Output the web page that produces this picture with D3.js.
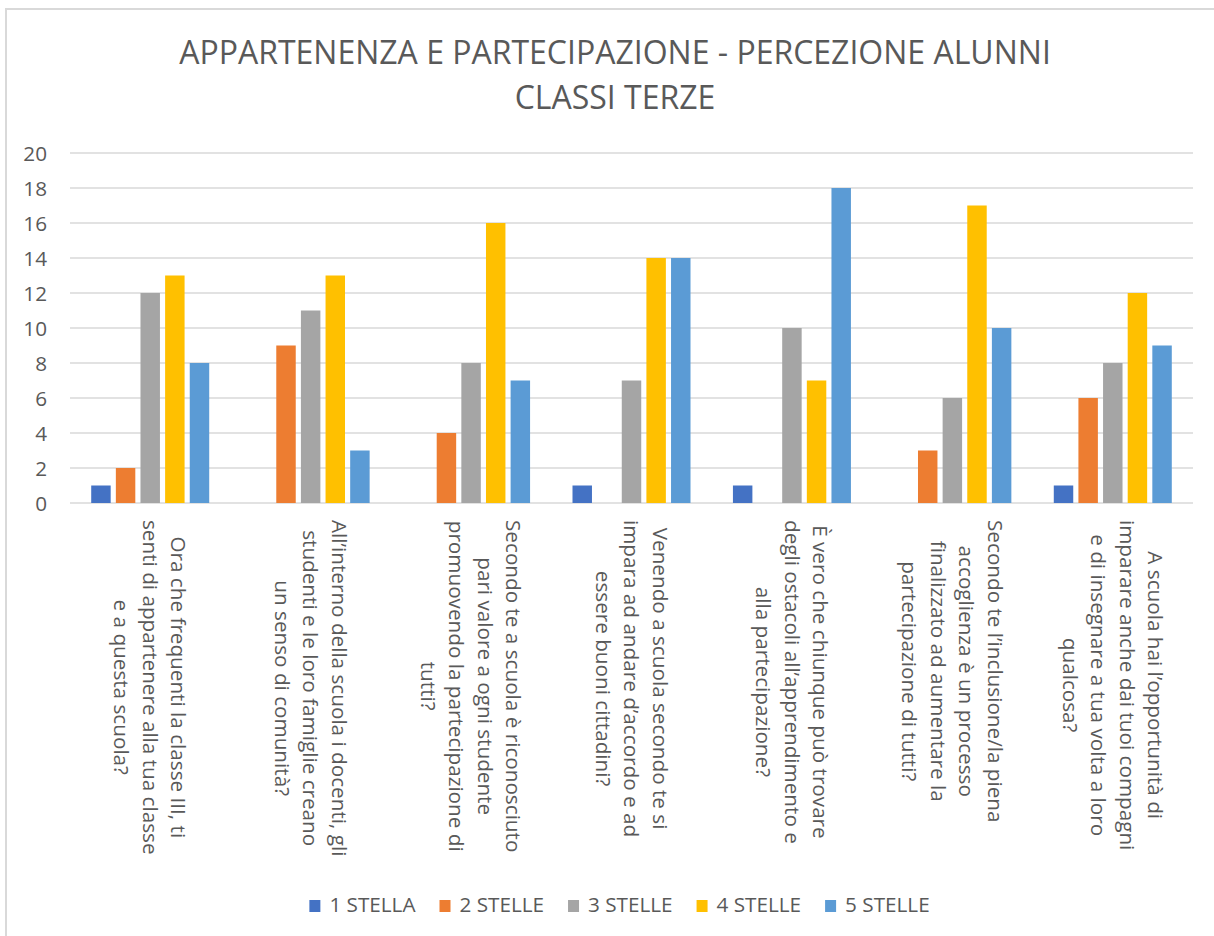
<!DOCTYPE html>
<html>
<head>
<meta charset="utf-8">
<script src="https://cdn.jsdelivr.net/npm/d3@7"></script>
<style>
  body { margin: 0; background: #fff; }
  text { font-family: "Open Sans", sans-serif; fill: #595959; }
</style>
</head>
<body>
<svg></svg>
<script>
var width = 1214;
var height = 936;

// categories (one array of lines each, as wrapped on the axis)
var categories = [
  ["Ora che frequenti la classe III, ti", "senti di appartenere alla tua classe", "e a questa scuola?"],
  ["All’interno della scuola i docenti, gli", "studenti e le loro famiglie creano", "un senso di comunità?"],
  ["Secondo te a scuola è riconosciuto", "pari valore a ogni studente", "promuovendo la partecipazione di", "tutti?"],
  ["Venendo a scuola secondo te si", "impara ad andare d’accordo e ad", "essere buoni cittadini?"],
  ["È vero che chiunque può trovare", "degli ostacoli all’apprendimento e", "alla partecipazione?"],
  ["Secondo te l’inclusione/la piena", "accoglienza è un processo", "finalizzato ad aumentare la", "partecipazione di tutti?"],
  ["A scuola hai l’opportunità di", "imparare anche dai tuoi compagni", "e di insegnare a tua volta a loro", "qualcosa?"]
];

var seriesNames = ["1 STELLA", "2 STELLE", "3 STELLE", "4 STELLE", "5 STELLE"];
var stella1 = [1, 0, 0, 1, 1, 0, 1];
var stelle2 = [2, 9, 4, 0, 0, 3, 6];
var stelle3 = [12, 11, 8, 7, 10, 6, 8];
var stelle4 = [13, 13, 16, 14, 7, 17, 12];
var stelle5 = [8, 3, 7, 14, 18, 10, 9];
var yTicks = [0, 2, 4, 6, 8, 10, 12, 14, 16, 18, 20];

var colors = ["#4472C4", "#ED7D31", "#A5A5A5", "#FFC000", "#5B9BD5"];
var seriesValues = [stella1, stelle2, stelle3, stelle4, stelle5];

var plot = {left: 70, right: 1193, top: 153, bottom: 503};

var svg = d3.select("svg").attr("width", width).attr("height", height);

// chart border (only left/top visible in the picture)
svg.append("rect")
  .attr("x", 6).attr("y", 9)
  .attr("width", width + 20).attr("height", height + 20)
  .attr("fill", "#fff")
  .attr("stroke", "#d9d9d9")
  .attr("stroke-width", 2);

// title
var title = svg.append("text")
  .attr("text-anchor", "middle")
  .style("font-size", "32px");
title.append("tspan").attr("x", 615).attr("y", 64)
  .text("APPARTENENZA E PARTECIPAZIONE - PERCEZIONE ALUNNI");
title.append("tspan").attr("x", 615).attr("y", 109)
  .text("CLASSI TERZE");

var idx = d3.range(categories.length);

var x = d3.scaleBand()
  .domain(idx)
  .range([plot.left, plot.right]);

var xs = d3.scaleBand()
  .domain(d3.range(seriesNames.length))
  .range([-59, 59])
  .paddingInner(0.21);

var y = d3.scaleLinear()
  .domain([0, 20])
  .range([plot.bottom, plot.top]);

// gridlines
svg.append("g").selectAll("line").data(yTicks)
  .enter()
  .append("line")
  .attr("x1", plot.left).attr("x2", plot.right)
  .attr("y1", function(d){ return y(d); })
  .attr("y2", function(d){ return y(d); })
  .attr("stroke", "#d9d9d9")
  .attr("stroke-width", 1.5);

// y axis labels
var yAxis = d3.axisLeft(y).tickValues(yTicks).tickSize(0).tickPadding(23);
var yg = svg.append("g")
  .attr("transform", "translate(" + plot.left + ",0)")
  .call(yAxis);
yg.select(".domain").remove();
yg.selectAll("text")
  .style("font-size", "20.7px")
  .attr("font-family", null)
  .attr("fill", null)
  .attr("dy", "0.36em");

// bars
var groups = svg.append("g").selectAll("g").data(seriesValues)
  .enter()
  .append("g")
  .attr("fill", function(d, i){ return colors[i]; });

groups.selectAll("rect")
  .data(function(d, i){
    return d.map(function(v, c){ return {s: i, c: c, v: v}; });
  })
  .enter()
  .filter(function(d){ return d.v > 0; })
  .append("rect")
  .attr("x", function(d){ return x(d.c) + x.bandwidth() / 2 + xs(d.s); })
  .attr("width", xs.bandwidth())
  .attr("y", function(d){ return y(d.v); })
  .attr("height", function(d){ return y(0) - y(d.v); });

// rotated category labels
var lineH = 28.5;
var capH = 14.8;
var labelTop = 520;

var labels = svg.append("g").selectAll("text").data(categories)
  .enter()
  .append("text")
  .attr("text-anchor", "middle")
  .style("font-size", "20.7px");

labels.each(function(lines, c){
  var t = d3.select(this);
  lines.forEach(function(line, i){
    t.append("tspan")
      .attr("x", 0)
      .attr("y", (i - (lines.length - 1) / 2) * lineH + capH / 2)
      .text(line);
  });
  var maxLen = d3.max(t.selectAll("tspan").nodes(), function(n){ return n.getComputedTextLength(); });
  t.attr("transform", "translate(" + (x(c) + x.bandwidth() / 2) + "," + (labelTop + maxLen / 2) + ") rotate(90)");
});

// legend
var legend = svg.append("g");
var lx = 0;
seriesNames.forEach(function(name, i){
  var item = legend.append("g").attr("transform", "translate(" + lx + ",0)");
  item.append("rect")
    .attr("x", 0).attr("y", -12)
    .attr("width", 11).attr("height", 12)
    .attr("fill", colors[i]);
  var t = item.append("text")
    .attr("x", 20).attr("y", 0)
    .style("font-size", "20.7px")
    .text(name);
  lx += 20 + t.node().getComputedTextLength() + 24;
});
var legendW = lx - 24;
legend.attr("transform", "translate(" + (619.5 - legendW / 2) + ",912)");
</script>
</body>
</html>
